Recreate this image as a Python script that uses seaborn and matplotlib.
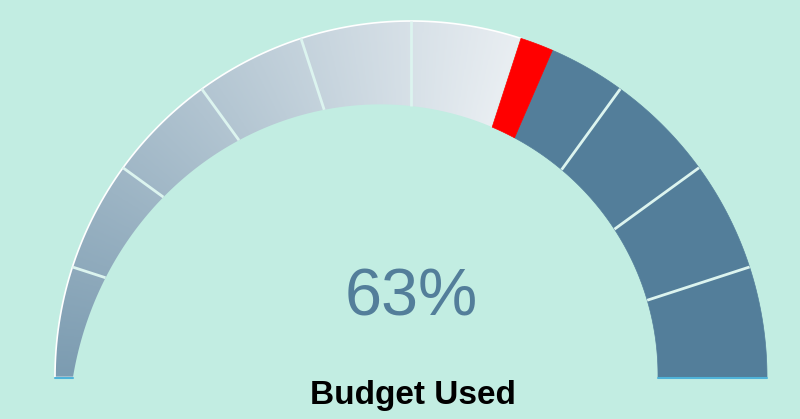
import numpy as np
import seaborn as sns
import matplotlib.pyplot as plt
from matplotlib.patches import Polygon

# gauge data (percent)
value = 63
needle_width = 3
segment_edges = [10, 20, 30, 40, 50, 60, 70, 80, 90]
value_label = "63%"
title = "Budget Used"

bg = "#c2ede2"
dark = "#537e9a"
needle_color = "#ff0000"
divider_color = "#dcf4ef"

sns.set_theme(style="white")

fig, ax = plt.subplots(figsize=(8, 4.19), dpi=100)
fig.patch.set_facecolor(bg)
ax.set_position([0, 0, 1, 1])
ax.set_facecolor(bg)
ax.set_xlim(-411 / 356, 389 / 356)
ax.set_ylim(-42 / 356, 377 / 356)
ax.axis("off")


def inner_r(pct):
    # the band gets thicker from left to right
    t = np.asarray(pct) / 100
    return 1 - (18 + 177 * t - 86 * t ** 2) / 356


def band(p0, p1, n=120):
    pct = np.linspace(p0, p1, n)
    th = np.pi * (1 - pct / 100)
    ri = inner_r(pct)
    outer = np.column_stack([np.cos(th), np.sin(th)])
    inner = np.column_stack([ri * np.cos(th), ri * np.sin(th)])[::-1]
    return np.vstack([outer, inner])


fill_end = value - needle_width

# gradient part, 0 -> needle
cmap = sns.blend_palette(["#7c9cb1", "#e9eef2"], as_cmap=True)
xs = np.linspace(-1.05, 1.05, 600)
ys = np.linspace(-0.05, 1.05, 320)
gx, gy = np.meshgrid(xs, ys)
ang_pct = (1 - np.arctan2(gy, gx) / np.pi) * 100
shade = np.clip(ang_pct / fill_end, 0, 1)
clip = Polygon(band(0, fill_end), closed=True, facecolor="none", edgecolor="none")
ax.add_patch(clip)
img = ax.imshow(shade, cmap=cmap, vmin=0, vmax=1, origin="lower",
                extent=[xs[0], xs[-1], ys[0], ys[-1]], interpolation="bilinear",
                aspect="auto", zorder=1)
img.set_clip_path(clip)

# remaining part
ax.add_patch(Polygon(band(value, 100), closed=True, facecolor=dark,
                     edgecolor=dark, lw=0.5, zorder=2))

# white rim on the filled part
th = np.pi * (1 - np.linspace(0, fill_end, 100) / 100)
ax.plot(np.cos(th), np.sin(th), color="white", lw=1.2, zorder=3)

# segment dividers
for p in segment_edges:
    t = np.pi * (1 - p / 100)
    ri = inner_r(p)
    ax.plot([ri * np.cos(t), np.cos(t)], [ri * np.sin(t), np.sin(t)],
            color=divider_color, lw=2, solid_capstyle="butt", zorder=4)

# needle
ax.add_patch(Polygon(band(fill_end, value, 20), closed=True,
                     facecolor=needle_color, edgecolor=needle_color,
                     lw=0.5, zorder=5))

# baseline ticks under the two ends
base = "#4fb3d9"
ax.plot([-1, -inner_r(0)], [-0.004, -0.004], color=base, lw=1.5, zorder=6)
ax.plot([inner_r(100), 1], [-0.004, -0.004], color=base, lw=1.5, zorder=6)

ax.text(0, 0.174, value_label, ha="center", va="baseline", fontsize=48,
        color=dark, family="Liberation Sans")
ax.text(0.006, -0.076, title, ha="center", va="baseline", fontsize=24,
        fontweight="bold", color="black", family="Liberation Sans")

fig.savefig("out.png", dpi=100, facecolor=bg)
